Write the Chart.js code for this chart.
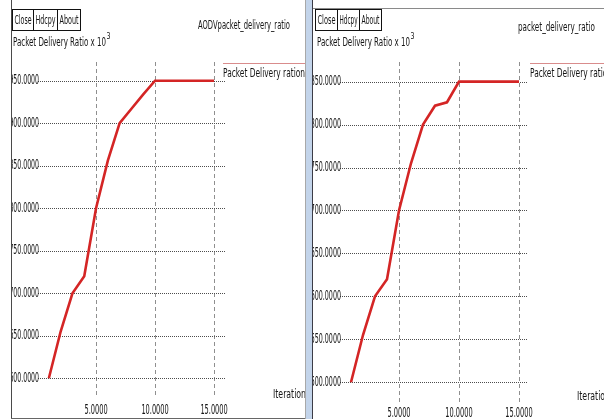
<!DOCTYPE html>
<html>
<head>
<meta charset="utf-8">
<script src="https://cdn.jsdelivr.net/npm/chart.js@4/dist/chart.umd.min.js"></script>
<style>
  html, body { margin: 0; padding: 0; background: #fff; }
  #page { position: relative; width: 604px; height: 419px; overflow: hidden; background: #fff; }
  .pane { position: absolute; top: 0; height: 419px; overflow: hidden; }
  .pane .inner { position: absolute; top: 0; }
  .rule { position: absolute; }
</style>
</head>
<body>
<div id="page">
  <!-- AODV window -->
  <div class="pane" style="left:12px;width:293px">
    <div class="inner" style="left:-12px"><canvas id="aodvChart" width="305" height="419"></canvas></div>
  </div>
  <div class="rule" style="left:11px;top:0;width:1px;height:419px;background:#4a4a4a"></div>
  <div class="rule" style="left:11px;top:418px;width:294px;height:1px;background:#666"></div>
  <!-- window border between the two plots -->
  <div class="rule" style="left:305px;top:0;width:1px;height:419px;background:#a8a8a8"></div>
  <div class="rule" style="left:306px;top:0;width:6px;height:419px;background:#c3d4ea"></div>
  <div class="rule" style="left:312px;top:0;width:1px;height:419px;background:#3c3c46"></div>
  <!-- second window -->
  <div class="pane" style="left:313px;width:291px">
    <div class="inner" style="left:-13px"><canvas id="pdrChart" width="304" height="419"></canvas></div>
  </div>
  <div class="rule" style="left:313px;top:8px;width:291px;height:1px;background:#8a8a8a"></div>
</div>

<script>
// Iteration number on the x axis
const iterations = [1, 2, 3, 4, 5, 6, 7, 8, 9, 10, 11, 12, 13, 14, 15];
// Packet delivery ratio (x 10^3) for the AODV run
const aodvRatio = [600, 655, 700, 720, 800, 856, 900, 917, 934, 950, 950, 950, 950, 950, 950];
// Packet delivery ratio (x 10^3) for the second run
const pdrRatio = [500, 555, 600, 620, 700, 755, 800, 822, 826, 850, 850, 850, 850, 850, 850];

// Tick values
const aodvTicks = [600, 650, 700, 750, 800, 850, 900, 950];
const pdrTicks = [500, 550, 600, 650, 700, 750, 800, 850];
const iterTicks = [5, 10, 15];

const seriesName = 'Packet Delivery ration';
const FONT = '"Liberation Sans Narrow", "DejaVu Sans Condensed", "Liberation Sans", sans-serif';

// Draw a string squeezed horizontally to a given width (narrow X11-style lettering)
function fitText(ctx, str, x, y, size, width, align) {
  ctx.save();
  ctx.font = size + 'px ' + FONT;
  ctx.textBaseline = 'middle';
  ctx.textAlign = 'left';
  const natural = ctx.measureText(str).width;
  const sx = width / natural;
  let left = x;
  if (align === 'center') left = x - width / 2;
  ctx.translate(left, y);
  ctx.scale(sx, 1);
  ctx.fillText(str, 0, 0);
  ctx.restore();
}

// Draw a string with a fixed digit width (used for the numeric tick labels)
function narrowText(ctx, str, x, y, size, digitW, align) {
  ctx.save();
  ctx.font = size + 'px ' + FONT;
  ctx.textBaseline = 'middle';
  ctx.textAlign = 'left';
  const sx = digitW / ctx.measureText('0').width;
  const w = ctx.measureText(str).width * sx;
  let left = x;
  if (align === 'center') left = x - w / 2;
  if (align === 'right') left = x - w;
  ctx.translate(left, y);
  ctx.scale(sx, 1);
  ctx.fillText(str, 0, 0);
  ctx.restore();
}

const tickText = t => (t.label !== undefined && t.label !== '' ? String(t.label) : Number(t.value).toFixed(4));

const windowChrome = {
  id: 'windowChrome',
  beforeDatasetsDraw(chart, args, o) {
    const { ctx, chartArea: a, scales: { x, y } } = chart;
    ctx.save();
    ctx.lineWidth = 1;
    // vertical dashed grid
    ctx.strokeStyle = '#8f8f8f';
    ctx.setLineDash([4, 3]);
    x.ticks.forEach(t => {
      const px = Math.round(x.getPixelForValue(t.value)) + 0.5;
      ctx.beginPath(); ctx.moveTo(px, a.top); ctx.lineTo(px, a.bottom); ctx.stroke();
    });
    // horizontal dotted grid
    ctx.strokeStyle = '#4d4d4d';
    ctx.setLineDash([1, 1]);
    y.ticks.forEach(t => {
      const py = Math.round(y.getPixelForValue(t.value)) + 0.5;
      ctx.beginPath(); ctx.moveTo(a.left - 2, py); ctx.lineTo(a.right, py); ctx.stroke();
    });
    ctx.restore();
  },
  afterDraw(chart, args, o) {
    const { ctx, chartArea: a, scales: { x, y } } = chart;
    ctx.save();
    ctx.fillStyle = '#151515';
    // numeric tick labels, narrow lettering
    y.ticks.forEach(t => {
      narrowText(ctx, tickText(t), a.left - 1, y.getPixelForValue(t.value), 13.5, o.yDigitW, 'right');
    });
    x.ticks.forEach(t => {
      narrowText(ctx, tickText(t), x.getPixelForValue(t.value), o.xLabelY, 13.5, 4.2, 'center');
    });
    // buttons
    ctx.strokeStyle = '#111';
    ctx.lineWidth = 1;
    o.buttons.forEach(b => {
      ctx.strokeRect(b.x0 + 0.5, 9.5, b.x1 - b.x0, 21);
      fitText(ctx, b.label, (b.x0 + b.x1) / 2 + 0.5, 21, 12.5, b.x1 - b.x0 - 4, 'center');
    });
    // y axis caption with exponent
    fitText(ctx, 'Packet Delivery Ratio x 10', o.yCap.x0, 43, 12.5, o.yCap.x1 - o.yCap.x0);
    fitText(ctx, '3', o.yCap.x1 + 0.5, 37, 9, 4);
    // window title
    fitText(ctx, o.title.text, o.title.x0, o.title.y, 12.5, o.title.w);
    // legend: sample line above the name
    ctx.strokeStyle = '#d98c8c';
    ctx.beginPath(); ctx.moveTo(o.legend.x0, 63.5); ctx.lineTo(o.legend.x0 + 90, 63.5); ctx.stroke();
    fitText(ctx, seriesName, o.legend.x0, 74, 12.5, 82);
    // x axis caption
    fitText(ctx, 'Iteration', o.xCap.x0, o.xCap.y, 12.5, 33);
    ctx.restore();
  }
};
Chart.register(windowChrome);

function makeChart(id, values, yTicks, area, yRange, xRange, chrome) {
  const canvas = document.getElementById(id);
  const W = canvas.width, H = canvas.height;
  return new Chart(canvas, {
    type: 'line',
    data: {
      datasets: [{
        label: seriesName,
        data: iterations.map((it, i) => ({ x: it, y: values[i] })),
        borderColor: '#d42525',
        borderWidth: 2.6,
        pointRadius: 0,
        tension: 0,
        fill: false
      }]
    },
    options: {
      responsive: false,
      animation: false,
      events: [],
      layout: { padding: { left: 0, top: area.top, right: W - area.right, bottom: 0 } },
      plugins: {
        legend: { display: false },
        tooltip: { enabled: false },
        windowChrome: chrome
      },
      scales: {
        x: {
          type: 'linear',
          min: xRange[0], max: xRange[1],
          afterBuildTicks: s => { s.ticks = iterTicks.map(v => ({ value: v })); },
          afterFit: s => { s.height = H - area.bottom; },
          grid: { display: false },
          border: { display: false },
          ticks: {
            display: false, autoSkip: false, maxRotation: 0,
            callback: v => Number(v).toFixed(4)
          }
        },
        y: {
          type: 'linear',
          min: yRange[0], max: yRange[1],
          afterBuildTicks: s => { s.ticks = yTicks.map(v => ({ value: v })); },
          afterFit: s => { s.width = area.left; },
          grid: { display: false },
          border: { display: false },
          ticks: {
            display: false, autoSkip: false,
            callback: v => Number(v).toFixed(4)
          }
        }
      }
    }
  });
}

makeChart('aodvChart', aodvRatio, aodvTicks,
  { left: 40, right: 225, top: 62, bottom: 398 },
  [576.8, 972], [0.25, 15.93],
  {
    buttons: [{ label: 'Close', x0: 12, x1: 33 }, { label: 'Hdcpy', x0: 33, x1: 57 }, { label: 'About', x0: 57, x1: 80 }],
    yCap: { x0: 13, x1: 106 },
    title: { text: 'AODVpacket_delivery_ratio', x0: 198, y: 26, w: 92 },
    legend: { x0: 223 },
    xCap: { x0: 273, y: 395 },
    xLabelY: 410,
    yDigitW: 3.95
  });

makeChart('pdrChart', pdrRatio, pdrTicks,
  { left: 42, right: 228, top: 62, bottom: 402 },
  [477, 872.9], [0.25, 15.75],
  {
    buttons: [{ label: 'Close', x0: 15, x1: 37 }, { label: 'Hdcpy', x0: 37, x1: 59 }, { label: 'About', x0: 59, x1: 81 }],
    yCap: { x0: 17, x1: 110 },
    title: { text: 'packet_delivery_ratio', x0: 218, y: 28, w: 77 },
    legend: { x0: 230 },
    xCap: { x0: 277, y: 397 },
    xLabelY: 413,
    yDigitW: 4.05
  });
</script>
</body>
</html>
